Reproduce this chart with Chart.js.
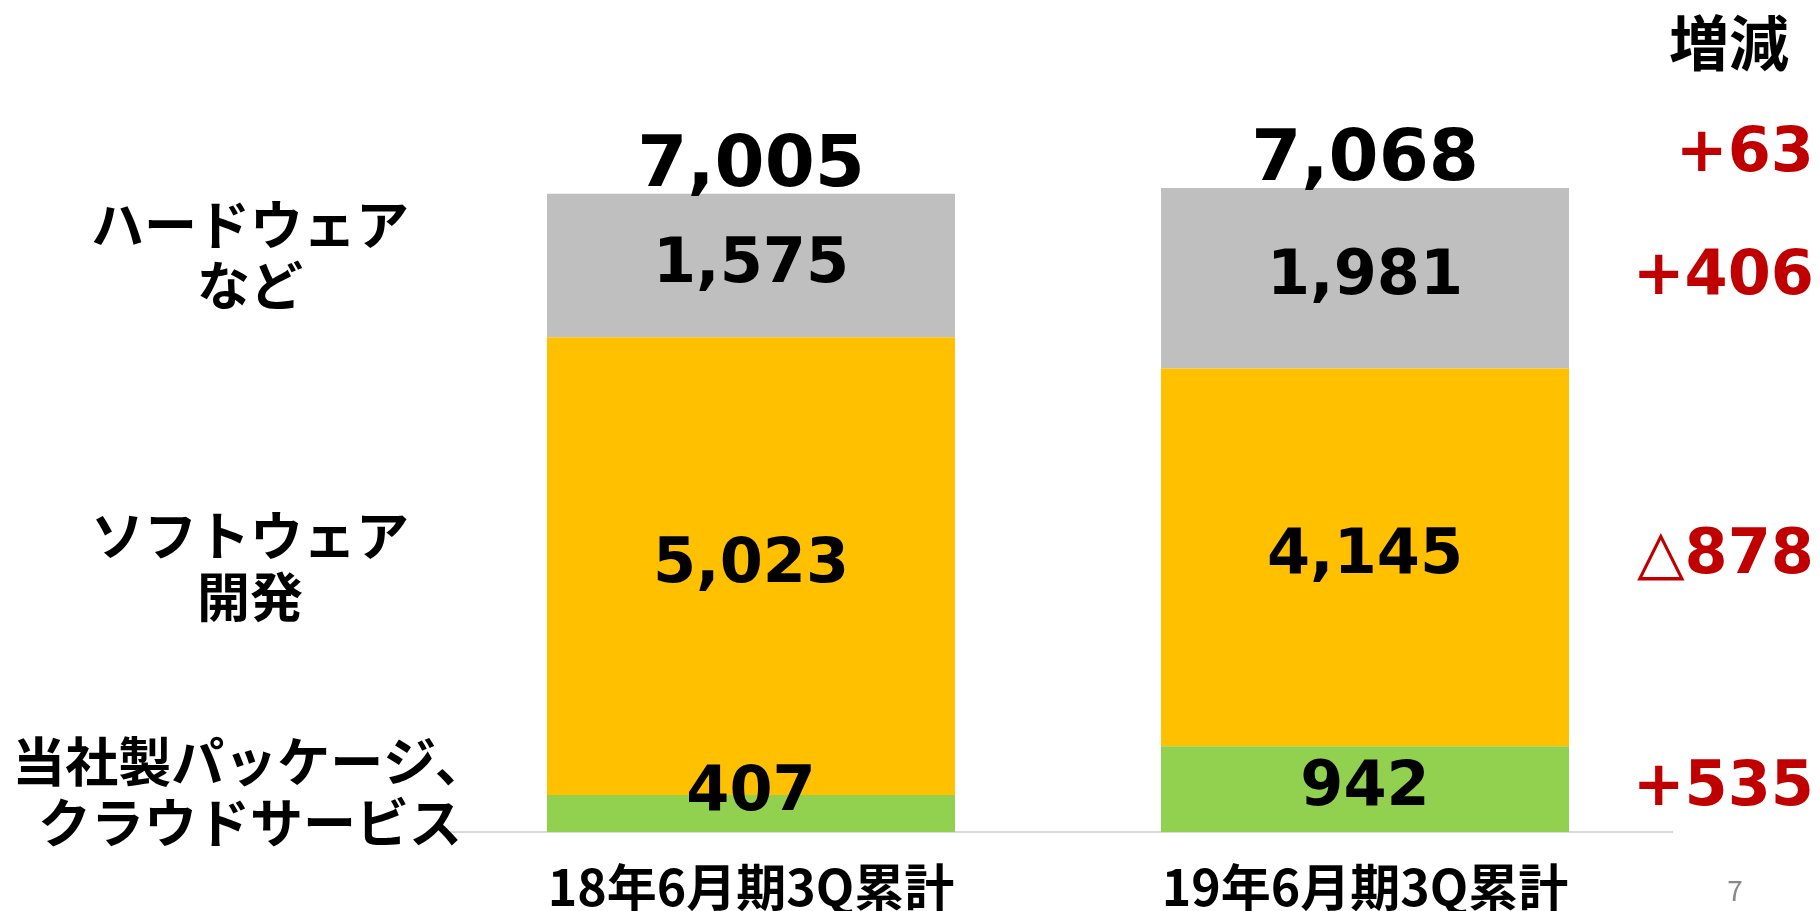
<!DOCTYPE html>
<html><head><meta charset="utf-8">
<script src="https://cdn.jsdelivr.net/npm/chart.js@4"></script>
<style>html,body{margin:0;padding:0;background:#fff;}#wrap{width:1820px;height:911px;position:relative;}</style>
</head><body><div id="wrap"><canvas id="c" width="1820" height="911"></canvas></div>
<script>
const categories = ['18年6月期3Q累計', '19年6月期3Q累計'];
const packageCloud = [407, 942];
const software = [5023, 4145];
const hardware = [1575, 1981];
const seriesLabels = [['当社製パッケージ、', 'クラウドサービス'], ['ソフトウェア', '開発'], ['ハードウェア', 'など']];
const seriesColors = ['#92D050', '#FFC000', '#BFBFBF'];
const deltaHeader = '増減';
const pageNumber = '7';

const NUM_FONT = '"DejaVu Sans", Verdana, sans-serif';
const JP_FONT = '"Noto Sans CJK JP", sans-serif';
const fmt = v => v.toLocaleString('en-US');
const fmtDelta = v => (v >= 0 ? '+' : '△') + fmt(Math.abs(v));

const overlay = {
  id: 'overlay',
  afterDatasetsDraw(chart) {
    const ctx = chart.ctx;
    const metas = chart.data.datasets.map((d, i) => chart.getDatasetMeta(i));
    const labelY = (bar) => Math.min((bar.y + bar.base) / 2, bar.base - 38);
    ctx.save();
    // segment labels
    ctx.fillStyle = '#000';
    ctx.textAlign = 'center';
    ctx.textBaseline = 'middle';
    ctx.font = 'bold 62px ' + NUM_FONT;
    metas.forEach((m, di) => {
      m.data.forEach((bar, ci) => {
        ctx.fillText(fmt(chart.data.datasets[di].data[ci]), bar.x, labelY(bar));
      });
    });
    // totals
    const topMeta = metas[metas.length - 1];
    ctx.font = 'bold 72px ' + NUM_FONT;
    ctx.textBaseline = 'alphabetic';
    const totals = categories.map((c, ci) => chart.data.datasets.reduce((s, d) => s + d.data[ci], 0));
    topMeta.data.forEach((bar, ci) => {
      ctx.fillText(fmt(totals[ci]), bar.x, bar.y - 8);
    });
    // delta column
    const last = categories.length - 1;
    ctx.textAlign = 'right';
    ctx.fillStyle = '#C00000';
    ctx.font = 'bold 62px ' + NUM_FONT;
    ctx.textBaseline = 'middle';
    metas.forEach((m, di) => {
      const d = chart.data.datasets[di].data;
      ctx.fillText(fmtDelta(d[last] - d[0]), 1814, labelY(m.data[last]));
    });
    ctx.textBaseline = 'alphabetic';
    ctx.fillText(fmtDelta(totals[last] - totals[0]), 1814, topMeta.data[last].y - 17);
    // header
    ctx.fillStyle = '#000';
    ctx.textAlign = 'center';
    ctx.textBaseline = 'middle';
    ctx.font = 'bold 60px ' + JP_FONT;
    ctx.fillText(deltaHeader, 1729, 43);
    // left series labels
    ctx.font = 'bold 53px ' + JP_FONT;
    metas.forEach((m, di) => {
      const lines = seriesLabels[di];
      const cy = Math.min(labelY(m.data[0]), m.data[0].base - 40) - (di === metas.length - 1 ? 10 : 0);
      const step = 61;
      lines.forEach((ln, li) => {
        ctx.fillText(ln, 250, cy + (li - (lines.length - 1) / 2) * step);
      });
    });
    // page number
    ctx.fillStyle = '#888888';
    ctx.font = '28px ' + JP_FONT;
    ctx.fillText(pageNumber, 1735, 890);
    ctx.restore();
  }
};

new Chart(document.getElementById('c'), {
  type: 'bar',
  data: {
    labels: categories,
    datasets: [
      { label: seriesLabels[0].join(''), data: packageCloud, backgroundColor: seriesColors[0] },
      { label: seriesLabels[1].join(''), data: software, backgroundColor: seriesColors[1] },
      { label: seriesLabels[2].join(''), data: hardware, backgroundColor: seriesColors[2] }
    ]
  },
  options: {
    responsive: false,
    animation: false,
    layout: { padding: { left: 444, right: 148, top: 103, bottom: 0 } },
    datasets: { bar: { barPercentage: 0.6645, categoryPercentage: 1, borderWidth: 0 } },
    plugins: { legend: { display: false }, tooltip: { enabled: false } },
    scales: {
      x: {
        stacked: true,
        grid: { display: false, drawTicks: false },
        border: { display: true, color: '#D9D9D9', width: 2 },
        ticks: { color: '#000', padding: 25, font: { family: JP_FONT, size: 50, weight: 'bold' } },
        afterFit: (s) => { s.height = 79; }
      },
      y: { stacked: true, display: false, min: 0, max: 8000 }
    }
  },
  plugins: [overlay]
});
</script></body></html>
